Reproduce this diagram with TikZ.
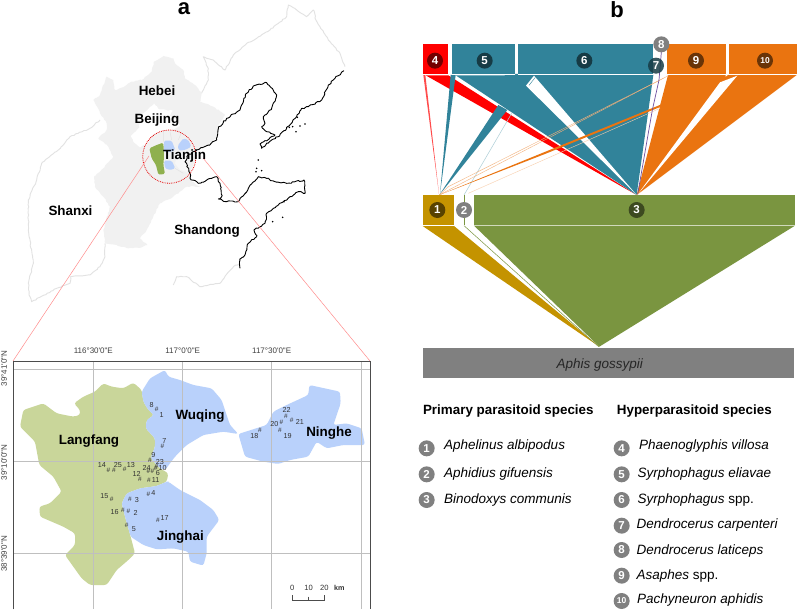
\documentclass[tikz,border=0pt]{standalone}
\usepackage{fontspec}
\usetikzlibrary{decorations.pathmorphing}
\setmainfont{Liberation Sans}
\newfontfamily\plainf{Liberation Sans}
\definecolor{tealc}{HTML}{31839A}
\definecolor{orangec}{HTML}{EA7410}
\definecolor{greenc}{HTML}{7A9540}
\definecolor{goldc}{HTML}{C49300}
\definecolor{greyc}{HTML}{808080}
\definecolor{mapgrey}{HTML}{F1F1F1}
\definecolor{outl}{HTML}{E2E2E2}
\definecolor{lang}{HTML}{C9D69A}
\definecolor{bluec}{HTML}{B9D1FB}
\definecolor{smallgreen}{HTML}{8FB04E}
\definecolor{pur}{HTML}{6F4FA0}
\tikzset{
 zz/.style={x=.33333pt,y=-.33333pt},
 wig/.style={decorate,decoration={random steps,segment length=2.2pt,amplitude=.55pt}},
 coast/.style={decorate,decoration={random steps,segment length=2pt,amplitude=.8pt}},
 provline/.style={draw=outl,line width=.9pt,line join=round,wig},
 place/.style={font=\bfseries\fontsize{13.4}{14}\selectfont,inner sep=0pt,text=black},
 panel/.style={font=\bfseries\fontsize{22}{23}\selectfont,inner sep=0pt},
 tick/.style={font=\plainf\fontsize{8}{9}\selectfont,inner sep=0pt,text=black!75},
 site/.style={font=\fontsize{7.2}{8}\selectfont,inner sep=0pt,text=black!80},
 mk/.style={font=\fontsize{6.5}{7}\selectfont,inner sep=0pt,text=black!80},
 num/.style={circle,minimum size=16pt,inner sep=0pt,text=white,font=\bfseries\fontsize{11.5}{12}\selectfont},
 numsm/.style={num,font=\bfseries\fontsize{8.5}{9}\selectfont},
 head/.style={font=\bfseries\fontsize{13.4}{14}\selectfont,inner sep=0pt},
 spec/.style={font=\itshape\fontsize{13.5}{14}\selectfont,inner sep=0pt,anchor=west},
 lbl/.style={inner sep=0pt,font=\fontsize{7.6}{8}\selectfont,text=black!80},
}
\begin{document}
\begin{tikzpicture}[x=1pt,y=-1pt]
\useasboundingbox (0,0) rectangle (797,610);
\fill[white] (0,0) rectangle (797,610);
\node[panel] (pa) at (184,9) {a};
\node[panel] (pb) at (617,10) {b};
% ---------- overview map
\begin{scope}[zz]
\path[provline] (1035,200)--(1020,160)--(1003,140)--(985,120)--(960,80)--(948,60)--(940,30)--(920,50)--(890,30)--(865,15)--(860,50)--(810,90)--(770,115)--(740,130)--(700,165)--(675,210)--(640,180)--(610,170)--(625,205)--(625,240)--(605,280);
\path[provline] (300,360)--(270,385)--(210,410)--(175,450)--(125,490)--(110,540)--(85,600)--(85,690)--(100,790)--(85,850)--(87,885)--(95,905)--(170,865)--(210,850)--(212,830)--(270,825)--(300,800)--(315,770)--(315,730);
\path[provline] (520,855)--(530,830)--(560,830)--(600,860)--(660,850)--(700,800)--(720,790);
\path[fill=mapgrey,wig] (320,230)--(340,240)--(345,270)--(370,262)--(395,245)--(425,240)--(455,215)--(462,185)--(490,168)--(520,175)--(525,190)--(550,210)--(555,235)--(590,260)--(605,280)--(600,305)--(640,320)--(675,345)--(655,375)--(650,410)--(625,435)--(590,450)--(590,470)--(570,520)--(575,545)--(600,560)--(560,560)--(520,590)--(480,610)--(460,650)--(440,690)--(420,715)--(442,735)--(425,742)--(385,745)--(350,735)--(315,730)--(310,690)--(330,620)--(310,590)--(285,560)--(282,530)--(300,515)--(340,470)--(325,440)--(295,415)--(320,390)--(320,370)--(300,340)--(280,300)--(300,285)--(310,255)--cycle;
\path[fill=white,wig] (393,408)--(418,383)--(420,350)--(440,332)--(462,310)--(478,328)--(518,332)--(510,348)--(530,360)--(540,378)--(520,388)--(490,392)--(460,402)--(440,430)--(420,442)--(400,425)--cycle;
\path[fill=white!97!black] (530,470)--(560,465)--(556,485)--(570,520)--(540,510)--(525,490)--cycle;
\path[draw=outl,line width=.5pt] (510,395)--(515,420) (545,395)--(535,420) (490,392)--(490,425) (525,505)--(550,520);
\fill[smallgreen,rounded corners=1.5pt] (448,445)--(470,435)--(490,428)--(492,470)--(490,495)--(495,522)--(475,524)--(468,495)--(455,475)--cycle;
\fill[bluec,rounded corners=1.5pt] (492,422)--(515,422)--(526,450)--(510,456)--(492,456)--cycle;
\fill[bluec,rounded corners=1.5pt] (492,482)--(515,482)--(526,505)--(510,510)--(495,505)--cycle;
\fill[bluec,rounded corners=1.5pt] (533,437)--(550,415)--(565,420)--(574,440)--(555,450)--(537,452)--cycle;
\draw[black,line width=.9pt,line join=round,coast] (1032,212)--(1005,235)--(985,255)--(965,300)--(925,320)--(905,325)--(890,350)--(860,385)--(835,410)--(815,420)--(785,445)--(780,432)--(825,405)--(800,395)--(785,380)--(795,370)--(790,350)--(815,325)--(830,285)--(800,248)--(760,258)--(740,280)--(720,330)--(680,355)--(655,385)--(650,420)--(625,435)--(590,450)--(565,465)--(555,485)--(570,520)--(570,535)--(595,550)--(635,535)--(650,530)--(660,550)--(665,590)--(655,597)--(680,605)--(715,605)--(745,565)--(775,530)--(800,535)--(825,545)--(860,550)--(912,540)--(915,580)--(895,575)--(870,590)--(850,605)--(820,625)--(800,640)--(795,670)--(780,680)--(762,690)--(770,710)--(745,730)--(735,765)--(720,780)--(720,805);
\foreach \p in {(775,480),(770,505),(768,515),(785,512),(892,352),(915,372),(888,395),(868,382),(848,652),(818,665),(878,380),(900,378),(852,605)}
 \fill[black] \p circle (2.6);
\draw[red!90!black,densely dotted,line width=.8pt] (508,470) circle (80);
\end{scope}
\coordinate (lA) at (149,156);
\coordinate (lB) at (13,361);
\coordinate (lC) at (203,158);
\coordinate (lD) at (370,361);
\draw[red!45,line width=.5pt] (lA)--(lB) (lC)--(lD);
\node[place] (hebei) at (157,91) {Hebei};
\node[place] (beijing) at (157,120.5) {Beijing};
\node[place] (tianjin) at (184.5,156.5) {Tianjin};
\node[place] (shanxi) at (70.5,211) {Shanxi};
\node[place] (shandong) at (207,231) {Shandong};
% ---------- detail map
\begin{scope}[shift={(0,340)},zz]
\fill[lang,rounded corners=2.5pt] (130,190)--(170,220)--(220,230)--(240,225)--(240,210)--(222,190)--(250,170)--(285,155)--(310,130)--(335,140)--(370,145)--(400,128)--(425,150)--(430,185)--(445,210)--(462,225)--(440,240)--(437,265)--(465,295)--(465,320)--(452,355)--(480,385)--(505,400)--(500,425)--(470,438)--(420,445)--(380,460)--(365,490)--(375,530)--(392,590)--(405,640)--(385,660)--(350,690)--(320,735)--(270,735)--(245,715)--(195,645)--(225,615)--(225,580)--(190,560)--(120,530)--(118,500)--(150,490)--(185,455)--(160,410)--(118,375)--(105,305)--(60,260)--(70,210)--cycle;
\fill[bluec,rounded corners=2.5pt] (495,90)--(505,110)--(540,120)--(580,135)--(635,145)--(665,180)--(680,225)--(690,255)--(715,282)--(670,275)--(610,285)--(560,315)--(525,350)--(495,390)--(480,385)--(452,355)--(465,320)--(465,295)--(437,265)--(440,240)--(462,225)--(445,210)--(430,185)--(425,155)--(450,115)--cycle;
\fill[bluec,rounded corners=2.5pt] (505,425)--(540,450)--(600,480)--(640,510)--(658,540)--(620,590)--(620,640)--(610,677)--(570,665)--(565,635)--(520,625)--(470,628)--(430,615)--(392,590)--(375,530)--(365,490)--(380,460)--(420,445)--(470,438)--(500,425)--cycle;
\fill[bluec,rounded corners=2.5pt] (715,282)--(800,255)--(820,215)--(860,195)--(925,165)--(928,135)--(1020,155)--(1022,190)--(1000,255)--(1040,250)--(1085,265)--(1095,315)--(1030,315)--(980,325)--(950,305)--(925,350)--(870,360)--(835,372)--(790,365)--(735,350)--cycle;
\draw[black!25,line width=.45pt] (280,63)--(280,807) (547,63)--(547,807) (815,63)--(815,807) (1085,63)--(1085,807) (40,88)--(1110,88) (40,364)--(1110,364) (40,640)--(1110,640);
\draw[black!70,line width=.9pt] (40,808)--(40,63)--(1110,63)--(1110,808);
\node[tick] (tx1) at (280,33) {116°30'0"E};
\node[tick] (tx2) at (548,33) {117°0'0"E};
\node[tick] (tx3) at (815,33) {117°30'0"E};
\node[tick,rotate=90] (ty1) at (12,85) {39°41'0"N};
\node[tick,rotate=90] (ty2) at (12,367) {39°10'0"N};
\node[tick,rotate=90] (ty3) at (12,642) {38°39'0"N};
\node[place] (wuqing) at (600,228) {Wuqing};
\node[place] (langfang) at (267,302) {Langfang};
\node[place] (ninghe) at (987,280) {Ninghe};
\node[place] (jinghai) at (541,592) {Jinghai};
\foreach \x/\y/\t in {455/196/8,485/225/1,493/304/7,460/344/9,480/365/23,488/385/10,440/385/24,474/400/6,467/420/11,410/402/12,306/376/14,354/375/25,393/376/13,460/460/4,411/481/3,313/467/15,344/515/16,407/520/2,402/567/5,494/534/17,763/288/18,863/287/19,823/252/20,900/245/21,860/210/22}
 \node[site] at (\x,\y) {\t};
\foreach \x/\y in {470/207,487/320,450/360,470/378,467/385,445/395,457/395,447/420,420/417,325/392,342/392,374/387,445/463,390/478,335/477,369/510,385/514,380/555,474/540,780/270,840/270,844/248,875/242,858/228}
 \node[mk] at (\x,\y) {\#};
\node[lbl] (s0) at (877,744) {0};
\node[lbl] (s1) at (926,744) {10};
\node[lbl] (s2) at (973,744) {20};
\node[lbl,font=\bfseries\fontsize{7.2}{8}\selectfont] (skm) at (1018,744) {km};
\draw[black!70,line width=.5pt] (878,765)--(878,780)--(974,780)--(974,765) (926,770)--(926,780);
\end{scope}
% ---------- upper bipartite web
\begin{scope}[shift={(410,30)},zz]
\fill[red] (38,42) rectangle (115,132);
\fill[tealc] (125,42) rectangle (315,132);
\fill[tealc] (325,42) rectangle (730,132);
\fill[orangec] (770,42) rectangle (947,132);
\fill[orangec] (957,42) rectangle (1160,132);
% red bands
\fill[red!70] (40,135)--(46,135)--(87,492)--cycle;
\fill[red] (47,136)--(115,136)--(680,495)--cycle;
% teal bands
\fill[tealc] (122,135)--(137,135)--(90,492)--cycle;
\fill[tealc] (137,136)--(730,135)--(680,495)--cycle;
\fill[tealc] (315,132)--(325,132)--(319,142)--cycle;
\fill[white] (372,137)--(348,167)--(680,495)--cycle;
\draw[tealc,line width=.4pt] (357,166)--(376,142);
\fill[tealc] (88,495)--(265,225)--(292,240)--cycle;
\draw[tealc!40,line width=.5pt] (305,250)--(172,478)--(162,495);
% orange bands
\fill[orangec] (774,135)--(1160,135)--(680,495)--cycle;
\fill[white] (930,157)--(982,137)--(684,492)--cycle;
\fill[white] (947,132)--(957,132)--(947,140)--cycle;
\draw[orangec!55,line width=.4pt] (775,137)--(120,478)--(88,495);
\draw[orangec!55,line width=.4pt] (760,145)--(115,470)--(88,495);
\draw[orangec!35,line width=.4pt] (750,235)--(175,490);
\fill[orangec] (752,224)--(748,232)--(410,370)--(88,495)--cycle;
\draw[pur,line width=.7pt] (755,55)--(747,150)--(727,240)--(683,493);
\draw[white,line width=.6pt] (38,133)--(115,133) (125,133)--(315,133) (325,133)--(730,133) (770,133)--(947,133) (957,133)--(1160,133);
\node[num,fill=red!45!black] (c4) at (75,92) {4};
\node[num,fill=tealc!45!black] (c5) at (224,92) {5};
\node[num,fill=tealc!45!black] (c6) at (523,92) {6};
\node[num,fill=tealc!45!black,fill opacity=.85,text opacity=1] (c7) at (738,107) {7};
\node[num,fill=greyc] (c8) at (754,43) {8};
\node[num,fill=orangec!45!black] (c9) at (858,92) {9};
\node[numsm,fill=orangec!45!black] (c10) at (1065,92) {10};
\end{scope}
% ---------- lower bipartite web
\begin{scope}[shift={(410,190)},zz]
\fill[goldc] (38,15) rectangle (132,105);
\draw[greenc,line width=.6pt] (162,15)--(162,105);
\fill[greenc] (192,15) rectangle (1155,105);
\fill[goldc] (38,108)--(132,108)--(568,470)--cycle;
\draw[greenc,line width=.5pt] (162,107)--(566,470);
\fill[greenc] (192,107)--(1155,107)--(568,470)--cycle;
\node[num,fill=goldc!45!black] (c1) at (82,60) {1};
\node[num,fill=greyc] (c2) at (162,60) {2};
\node[num,fill=greenc!50!black] (c3) at (680,60) {3};
\fill[greyc] (38,473) rectangle (1153,565);
\node[inner sep=0pt,font=\itshape\fontsize{13.5}{14}\selectfont,text=black!85] (aphis) at (569,524) {Aphis gossypii};
\end{scope}
% ---------- legend
\begin{scope}[shift={(410,395)},zz]
\node[head] (hp) at (295,49) {Primary parasitoid species};
\node[head] (hh) at (853,49) {Hyperparasitoid species};
\node[num,fill=greyc] (l1) at (50,160) {1};
\node[num,fill=greyc] (l2) at (50,238) {2};
\node[num,fill=greyc] (l3) at (50,315) {3};
\node[spec] (t1) at (102,152) {Aphelinus albipodus};
\node[spec] (t2) at (102,236) {Aphidius gifuensis};
\node[spec] (t3) at (102,316) {Binodoxys communis};
\node[num,fill=greyc] (l4) at (635,160) {4};
\node[num,fill=greyc] (l5) at (635,238) {5};
\node[num,fill=greyc] (l6) at (635,315) {6};
\node[num,fill=greyc] (l7) at (635,392) {7};
\node[num,fill=greyc] (l8) at (635,465) {8};
\node[num,fill=greyc] (l9) at (635,542) {9};
\node[numsm,fill=greyc] (l10) at (635,618) {10};
\node[spec] (t4) at (687,152) {Phaenoglyphis villosa};
\node[spec] (t5) at (682,236) {Syrphophagus eliavae};
\node[spec] (t6) at (682,316) {Syrphophagus {\upshape spp.}};
\node[spec] (t7) at (679,391) {Dendrocerus carpenteri};
\node[spec] (t8) at (679,467) {Dendrocerus laticeps};
\node[spec] (t9) at (679,544) {Asaphes {\upshape spp.}};
\node[spec] (t10) at (681,615) {Pachyneuron aphidis};
\end{scope}
\end{tikzpicture}
\end{document}
